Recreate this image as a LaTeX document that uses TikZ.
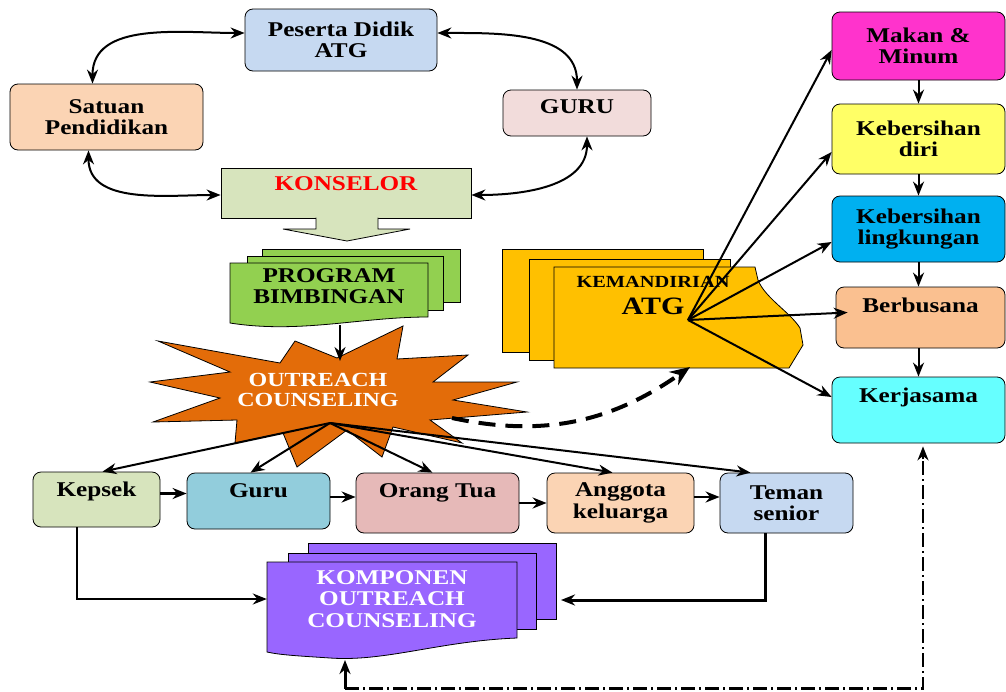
\documentclass[tikz,border=0pt]{standalone}
\usepackage{fontspec}
\setmainfont{Liberation Serif}[FakeStretch=1.2]
\usetikzlibrary{positioning, arrows.meta, calc}
\definecolor{peserta}{HTML}{C6D9F1}
\definecolor{satuan}{HTML}{FBD4B4}
\definecolor{gurutop}{HTML}{F2DCDB}
\definecolor{konselor}{HTML}{D7E4BD}
\definecolor{program}{HTML}{92D050}
\definecolor{burst}{HTML}{E36C09}
\definecolor{mandiri}{HTML}{FFC000}
\definecolor{makan}{HTML}{FF33CC}
\definecolor{diri}{HTML}{FFFF66}
\definecolor{lingk}{HTML}{00B0F0}
\definecolor{busana}{HTML}{FAC090}
\definecolor{kerja}{HTML}{66FFFF}
\definecolor{kepsek}{HTML}{D7E4BD}
\definecolor{gurubot}{HTML}{92CDDC}
\definecolor{ortu}{HTML}{E6B9B8}
\definecolor{anggota}{HTML}{FBD4B4}
\definecolor{teman}{HTML}{C6D9F1}
\definecolor{komponen}{HTML}{9966FF}

\begin{document}
\begin{tikzpicture}[
  x=1pt, y=-1pt,
  font=\bfseries\fontsize{21}{21.5}\selectfont,
  box/.style={draw=black, line width=0.8pt, rounded corners=8pt, align=center, inner sep=2pt},
  raised/.style={text height=14pt, text depth=#1},
  doc/.style={draw=black, line width=0.8pt},
  arr/.style={-{Stealth[length=14pt, width=11pt]}, line width=2pt},
  dbl/.style={{Stealth[length=14pt, width=11pt]}-{Stealth[length=14pt, width=11pt]}, line width=2pt},
  dasharr/.style={-{Stealth[length=20pt, width=16pt]}, line width=4pt, dash pattern=on 17pt off 10pt},
  dashdot/.style={line width=2.2pt, dash pattern=on 14pt off 4pt on 2pt off 4pt}
]
  \useasboundingbox (0,0) rectangle (1006,691);
  \clip (0,0) rectangle (1006,691);
  \fill[white] (0,0) rectangle (1006,691);

  % top cycle
  \node[box, fill=peserta, minimum width=192pt, minimum height=62pt] (peserta) at (341,40) {Peserta Didik\\ATG};
  \node[box, fill=satuan, minimum width=193pt, minimum height=66pt] (satuan) at (106.5,117) {Satuan\\Pendidikan};
  \node[box, fill=gurutop, minimum width=148pt, minimum height=46pt, raised=14pt] (guru) at (577,113) {GURU};
  \node[draw=black, line width=0.8pt, fill=konselor, minimum width=250pt, minimum height=50pt, raised=20pt, text=red] (konselor) at (346,193) {KONSELOR};
  \draw[doc, fill=konselor] (316,217.5) -- (316,229) -- (283,229) -- (347,241) -- (410,229) -- (378,229) -- (378,217.5);

  \draw[dbl] ([yshift=7pt]peserta.west) to[out=180, in=90] ([xshift=-14pt]satuan.north);
  \draw[dbl] ([yshift=7pt]peserta.east) to[out=0, in=90] (guru.north);
  \draw[dbl] ([xshift=-18pt]satuan.south) to[out=-90, in=180] ([yshift=-2pt]konselor.west);
  \draw[dbl] ([xshift=10pt]guru.south) to[out=-90, in=0] ([yshift=-2pt]konselor.east);

  % program bimbingan
  \draw[doc, fill=program] (262,249) rectangle (460,302);
  \draw[doc, fill=program] (247,256) rectangle (443,310);
  \draw[doc, fill=program] (230,263) -- (428,263) -- (428,317) .. controls (360,317) and (300,334) .. (230,323) -- cycle;
  \node[align=center] (prog) at (329,286) {PROGRAM\\BIMBINGAN};

  % outreach counseling
  \draw[doc, fill=burst] (150,382) -- (230,372) -- (158,341) -- (280,363) -- (295,341) -- (337,358)
    -- (403,326) -- (397,359) -- (468,355) -- (433,382) -- (517,382) -- (453,400) -- (527,412)
    -- (430,420) -- (462,443) -- (393,427) -- (382,457) -- (347,430) -- (297,467) -- (283,433)
    -- (235,443) -- (237,420) -- (153,422) -- (220,398) -- cycle;
  \node[text=white, align=center, font=\bfseries\fontsize{20}{20}\selectfont] (burst) at (318,390) {OUTREACH\\COUNSELING};
  \coordinate (progBot) at (340,325);
  \coordinate (burstTop) at (340,361);
  \coordinate (burstHub) at (330,423);
  \coordinate (burstEnd) at (452,418);
  \draw[arr] (progBot) -- (burstTop);

  % kemandirian
  \draw[doc, fill=mandiri] (502,249) rectangle (703,352);
  \draw[doc, fill=mandiri] (529,259) rectangle (730,360);
  \draw[doc, fill=mandiri] (554,267) -- (755,267) -- (758,280) .. controls (765,298) and (790,312) .. (800,328)
    -- (803,345) -- (789,368) -- (554,368) -- cycle;
  \node[align=center, font=\bfseries\fontsize{17}{27}\selectfont] (kem) at (653,296) {KEMANDIRIAN\\{\fontsize{25}{27}\selectfont ATG}};
  \coordinate (kemHub) at (688,320);
  \coordinate (kemBot) at (690,367);

  % right column
  \node[box, fill=makan, minimum width=173pt, minimum height=68pt] (makan) at (918.5,46) {Makan \&\\Minum};
  \node[box, fill=diri, minimum width=173pt, minimum height=70pt] (diri) at (918.5,139) {Kebersihan\\diri};
  \node[box, fill=lingk, minimum width=173pt, minimum height=66pt] (lingk) at (918.5,229) {Kebersihan\\lingkungan};
  \node[box, fill=busana, minimum width=169pt, minimum height=61pt, raised=24pt] (busana) at (920.5,317.5) {Berbusana};
  \node[box, fill=kerja, minimum width=173pt, minimum height=66pt, raised=30pt] (kerja) at (918.5,410) {Kerjasama};

  \draw[arr] (makan) -- (diri);
  \draw[arr] (diri) -- (lingk);
  \draw[arr] (lingk) -- (busana.north -| lingk.south);
  \draw[arr] (busana.south -| lingk.south) -- (kerja);

  \draw[arr] (kemHub) -- ([yshift=-4pt]makan.west);
  \draw[arr] (kemHub) -- ([yshift=-13pt]diri.west);
  \draw[arr] (kemHub) -- ([yshift=-13pt]lingk.west);
  \draw[arr] (kemHub) -- ([xshift=12pt, yshift=5pt]busana.west);
  \draw[arr] (kemHub) -- ([yshift=13pt]kerja.west);

  \draw[dasharr] (burstEnd) to[out=-12, in=-145] (kemBot);

  % bottom row
  \node[box, fill=kepsek, minimum width=127pt, minimum height=55pt, raised=20pt] (kepsek) at (96.5,499.5) {Kepsek};
  \node[box, fill=gurubot, minimum width=143pt, minimum height=56pt, raised=22pt] (guru2) at (258.5,501) {Guru};
  \node[box, fill=ortu, minimum width=163pt, minimum height=60pt, raised=26pt] (ortu) at (437.5,503) {Orang Tua};
  \node[box, fill=anggota, minimum width=147pt, minimum height=60pt] (anggota) at (620.5,503) {Anggota\\keluarga};
  \node[box, fill=teman, minimum width=133pt, minimum height=60pt] (teman) at (786.5,503) {Teman\\senior};

  \draw[arr, line width=2.6pt] ([yshift=6pt]kepsek.east) -- ([yshift=6pt]kepsek.east -| guru2.west);
  \draw[arr, line width=2.6pt] ([yshift=4pt]guru2.east) -- ([yshift=4pt]guru2.east -| ortu.west);
  \draw[arr, line width=2.6pt] (ortu.east) -- (ortu.east -| anggota.west);
  \draw[arr, line width=2.6pt] ([yshift=6pt]anggota.east) -- ([yshift=6pt]anggota.east -| teman.west);

  \draw[arr] (burstHub) -- ([xshift=6pt]kepsek.north);
  \draw[arr] (burstHub) -- ([xshift=-8pt]guru2.north);
  \draw[arr] (burstHub) -- ([xshift=-5pt]ortu.north);
  \draw[arr] (burstHub) -- ([xshift=-8pt]anggota.north);
  \draw[arr] (burstHub) -- ([xshift=-36pt]teman.north);

  % komponen outreach counseling
  \draw[doc, fill=komponen] (308,543) rectangle (556,619);
  \draw[doc, fill=komponen] (288,553) rectangle (536,629);
  \draw[doc, fill=komponen] (267,562) -- (517,562) -- (517,638) .. controls (440,641) and (385,662) .. (330,658)
    .. controls (300,656) and (280,655) .. (267,652) -- cycle;
  \node[text=white, align=center, minimum width=250pt, minimum height=78pt] (komp) at (392,599) {KOMPONEN\\OUTREACH\\COUNSELING};
  \coordinate (kompBack) at (561,600);
  \coordinate (kompBot) at (345,660);
  \coordinate (loopL) at (345,688.5);

  \draw[arr] ([xshift=-20pt]kepsek.south) |- (komp.west);
  \draw[arr, line width=3pt] ([xshift=-21pt]teman.south) |- (kompBack);
  \draw[arr, line width=3pt] (loopL) -- (kompBot);
  \draw[dashdot] (loopL) -| ([xshift=4.5pt, yshift=-14pt]kerja.south);
  \draw[arr, line width=2.2pt] ([xshift=4.5pt, yshift=-16pt]kerja.south) -- ([xshift=4.5pt, yshift=-3pt]kerja.south);
\end{tikzpicture}
\end{document}
